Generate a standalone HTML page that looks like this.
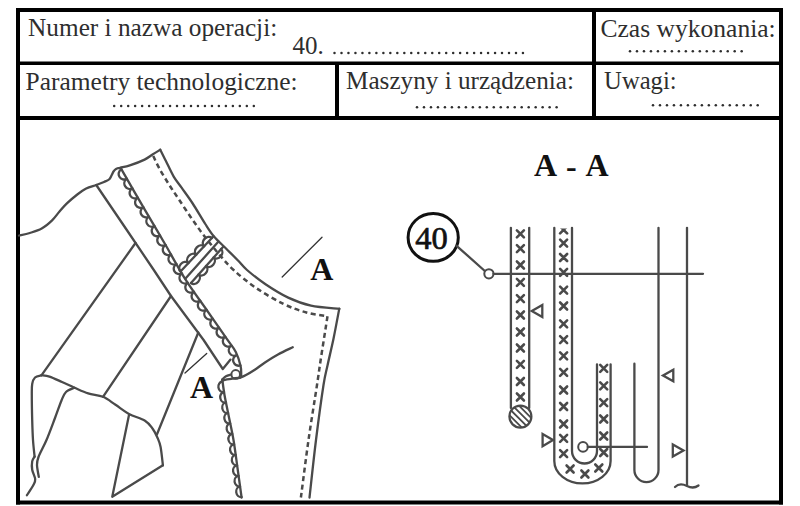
<!DOCTYPE html>
<html><head><meta charset="utf-8"><style>
html,body{margin:0;padding:0;background:#fff;}
svg{display:block;}
</style></head><body>
<svg width="800" height="506" viewBox="0 0 800 506">
<rect width="800" height="506" fill="#fff"/>
<rect x="16" y="8" width="767" height="4" fill="#000"/>
<rect x="16" y="500.5" width="767" height="4" fill="#000"/>
<rect x="16" y="8" width="4" height="496.5" fill="#000"/>
<rect x="779" y="8" width="4" height="496.5" fill="#000"/>
<rect x="16" y="61.5" width="767" height="3.5" fill="#000"/>
<rect x="16" y="116" width="767" height="4" fill="#000"/>
<rect x="592" y="8" width="4" height="112" fill="#000"/>
<rect x="335" y="62" width="4" height="58" fill="#000"/>
<text x="28.1" y="35.6" font-family="Liberation Serif" font-size="25" font-weight="normal" fill="#2e2e2e" textLength="249.1" lengthAdjust="spacingAndGlyphs">Numer i nazwa operacji:</text>
<text x="292.5" y="54" font-family="Liberation Serif" font-size="25" font-weight="normal" fill="#2e2e2e" >40.</text>
<text x="600.5" y="37" font-family="Liberation Serif" font-size="25" font-weight="normal" fill="#2e2e2e" textLength="175.2" lengthAdjust="spacingAndGlyphs">Czas wykonania:</text>
<text x="25.6" y="90" font-family="Liberation Serif" font-size="25" font-weight="normal" fill="#2e2e2e" textLength="272" lengthAdjust="spacingAndGlyphs">Parametry technologiczne:</text>
<text x="346" y="88.6" font-family="Liberation Serif" font-size="25" font-weight="normal" fill="#2e2e2e" textLength="228" lengthAdjust="spacingAndGlyphs">Maszyny i urządzenia:</text>
<text x="604.1" y="89" font-family="Liberation Serif" font-size="25" font-weight="normal" fill="#2e2e2e" textLength="72.5" lengthAdjust="spacingAndGlyphs">Uwagi:</text>
<circle cx="334.5" cy="53" r="1.25" fill="#2e2e2e"/>
<circle cx="341.48" cy="53" r="1.25" fill="#2e2e2e"/>
<circle cx="348.46" cy="53" r="1.25" fill="#2e2e2e"/>
<circle cx="355.44" cy="53" r="1.25" fill="#2e2e2e"/>
<circle cx="362.42" cy="53" r="1.25" fill="#2e2e2e"/>
<circle cx="369.4" cy="53" r="1.25" fill="#2e2e2e"/>
<circle cx="376.38" cy="53" r="1.25" fill="#2e2e2e"/>
<circle cx="383.36" cy="53" r="1.25" fill="#2e2e2e"/>
<circle cx="390.34" cy="53" r="1.25" fill="#2e2e2e"/>
<circle cx="397.32" cy="53" r="1.25" fill="#2e2e2e"/>
<circle cx="404.3" cy="53" r="1.25" fill="#2e2e2e"/>
<circle cx="411.28" cy="53" r="1.25" fill="#2e2e2e"/>
<circle cx="418.26" cy="53" r="1.25" fill="#2e2e2e"/>
<circle cx="425.24" cy="53" r="1.25" fill="#2e2e2e"/>
<circle cx="432.22" cy="53" r="1.25" fill="#2e2e2e"/>
<circle cx="439.2" cy="53" r="1.25" fill="#2e2e2e"/>
<circle cx="446.18" cy="53" r="1.25" fill="#2e2e2e"/>
<circle cx="453.16" cy="53" r="1.25" fill="#2e2e2e"/>
<circle cx="460.14" cy="53" r="1.25" fill="#2e2e2e"/>
<circle cx="467.12" cy="53" r="1.25" fill="#2e2e2e"/>
<circle cx="474.1" cy="53" r="1.25" fill="#2e2e2e"/>
<circle cx="481.08" cy="53" r="1.25" fill="#2e2e2e"/>
<circle cx="488.06" cy="53" r="1.25" fill="#2e2e2e"/>
<circle cx="495.04" cy="53" r="1.25" fill="#2e2e2e"/>
<circle cx="502.02" cy="53" r="1.25" fill="#2e2e2e"/>
<circle cx="509" cy="53" r="1.25" fill="#2e2e2e"/>
<circle cx="515.98" cy="53" r="1.25" fill="#2e2e2e"/>
<circle cx="522.96" cy="53" r="1.25" fill="#2e2e2e"/>
<circle cx="630" cy="51.2" r="1.25" fill="#2e2e2e"/>
<circle cx="636.98" cy="51.2" r="1.25" fill="#2e2e2e"/>
<circle cx="643.96" cy="51.2" r="1.25" fill="#2e2e2e"/>
<circle cx="650.94" cy="51.2" r="1.25" fill="#2e2e2e"/>
<circle cx="657.92" cy="51.2" r="1.25" fill="#2e2e2e"/>
<circle cx="664.9" cy="51.2" r="1.25" fill="#2e2e2e"/>
<circle cx="671.88" cy="51.2" r="1.25" fill="#2e2e2e"/>
<circle cx="678.86" cy="51.2" r="1.25" fill="#2e2e2e"/>
<circle cx="685.84" cy="51.2" r="1.25" fill="#2e2e2e"/>
<circle cx="692.82" cy="51.2" r="1.25" fill="#2e2e2e"/>
<circle cx="699.8" cy="51.2" r="1.25" fill="#2e2e2e"/>
<circle cx="706.78" cy="51.2" r="1.25" fill="#2e2e2e"/>
<circle cx="713.76" cy="51.2" r="1.25" fill="#2e2e2e"/>
<circle cx="720.74" cy="51.2" r="1.25" fill="#2e2e2e"/>
<circle cx="727.72" cy="51.2" r="1.25" fill="#2e2e2e"/>
<circle cx="734.7" cy="51.2" r="1.25" fill="#2e2e2e"/>
<circle cx="741.68" cy="51.2" r="1.25" fill="#2e2e2e"/>
<circle cx="114.2" cy="106" r="1.25" fill="#2e2e2e"/>
<circle cx="121.18" cy="106" r="1.25" fill="#2e2e2e"/>
<circle cx="128.16" cy="106" r="1.25" fill="#2e2e2e"/>
<circle cx="135.14" cy="106" r="1.25" fill="#2e2e2e"/>
<circle cx="142.12" cy="106" r="1.25" fill="#2e2e2e"/>
<circle cx="149.1" cy="106" r="1.25" fill="#2e2e2e"/>
<circle cx="156.08" cy="106" r="1.25" fill="#2e2e2e"/>
<circle cx="163.06" cy="106" r="1.25" fill="#2e2e2e"/>
<circle cx="170.04" cy="106" r="1.25" fill="#2e2e2e"/>
<circle cx="177.02" cy="106" r="1.25" fill="#2e2e2e"/>
<circle cx="184" cy="106" r="1.25" fill="#2e2e2e"/>
<circle cx="190.98" cy="106" r="1.25" fill="#2e2e2e"/>
<circle cx="197.96" cy="106" r="1.25" fill="#2e2e2e"/>
<circle cx="204.94" cy="106" r="1.25" fill="#2e2e2e"/>
<circle cx="211.92" cy="106" r="1.25" fill="#2e2e2e"/>
<circle cx="218.9" cy="106" r="1.25" fill="#2e2e2e"/>
<circle cx="225.88" cy="106" r="1.25" fill="#2e2e2e"/>
<circle cx="232.86" cy="106" r="1.25" fill="#2e2e2e"/>
<circle cx="239.84" cy="106" r="1.25" fill="#2e2e2e"/>
<circle cx="246.82" cy="106" r="1.25" fill="#2e2e2e"/>
<circle cx="253.8" cy="106" r="1.25" fill="#2e2e2e"/>
<circle cx="417" cy="107.3" r="1.25" fill="#2e2e2e"/>
<circle cx="423.98" cy="107.3" r="1.25" fill="#2e2e2e"/>
<circle cx="430.96" cy="107.3" r="1.25" fill="#2e2e2e"/>
<circle cx="437.94" cy="107.3" r="1.25" fill="#2e2e2e"/>
<circle cx="444.92" cy="107.3" r="1.25" fill="#2e2e2e"/>
<circle cx="451.9" cy="107.3" r="1.25" fill="#2e2e2e"/>
<circle cx="458.88" cy="107.3" r="1.25" fill="#2e2e2e"/>
<circle cx="465.86" cy="107.3" r="1.25" fill="#2e2e2e"/>
<circle cx="472.84" cy="107.3" r="1.25" fill="#2e2e2e"/>
<circle cx="479.82" cy="107.3" r="1.25" fill="#2e2e2e"/>
<circle cx="486.8" cy="107.3" r="1.25" fill="#2e2e2e"/>
<circle cx="493.78" cy="107.3" r="1.25" fill="#2e2e2e"/>
<circle cx="500.76" cy="107.3" r="1.25" fill="#2e2e2e"/>
<circle cx="507.74" cy="107.3" r="1.25" fill="#2e2e2e"/>
<circle cx="514.72" cy="107.3" r="1.25" fill="#2e2e2e"/>
<circle cx="521.7" cy="107.3" r="1.25" fill="#2e2e2e"/>
<circle cx="528.68" cy="107.3" r="1.25" fill="#2e2e2e"/>
<circle cx="535.66" cy="107.3" r="1.25" fill="#2e2e2e"/>
<circle cx="542.64" cy="107.3" r="1.25" fill="#2e2e2e"/>
<circle cx="549.62" cy="107.3" r="1.25" fill="#2e2e2e"/>
<circle cx="556.6" cy="107.3" r="1.25" fill="#2e2e2e"/>
<circle cx="653" cy="105.3" r="1.25" fill="#2e2e2e"/>
<circle cx="659.98" cy="105.3" r="1.25" fill="#2e2e2e"/>
<circle cx="666.96" cy="105.3" r="1.25" fill="#2e2e2e"/>
<circle cx="673.94" cy="105.3" r="1.25" fill="#2e2e2e"/>
<circle cx="680.92" cy="105.3" r="1.25" fill="#2e2e2e"/>
<circle cx="687.9" cy="105.3" r="1.25" fill="#2e2e2e"/>
<circle cx="694.88" cy="105.3" r="1.25" fill="#2e2e2e"/>
<circle cx="701.86" cy="105.3" r="1.25" fill="#2e2e2e"/>
<circle cx="708.84" cy="105.3" r="1.25" fill="#2e2e2e"/>
<circle cx="715.82" cy="105.3" r="1.25" fill="#2e2e2e"/>
<circle cx="722.8" cy="105.3" r="1.25" fill="#2e2e2e"/>
<circle cx="729.78" cy="105.3" r="1.25" fill="#2e2e2e"/>
<circle cx="736.76" cy="105.3" r="1.25" fill="#2e2e2e"/>
<circle cx="743.74" cy="105.3" r="1.25" fill="#2e2e2e"/>
<circle cx="750.72" cy="105.3" r="1.25" fill="#2e2e2e"/>
<circle cx="757.7" cy="105.3" r="1.25" fill="#2e2e2e"/>
<path d="M19,235.5 C20.8,235.08 26.02,234.15 29.8,233 C33.58,231.85 37.98,230.7 41.7,228.6 C45.42,226.5 49.13,223.25 52.1,220.4 C55.07,217.55 57.03,214.33 59.5,211.5 C61.97,208.67 63.93,206.23 66.9,203.4 C69.87,200.57 74.08,196.98 77.3,194.5 C80.52,192.02 83.04,190.08 86.2,188.5 C89.36,186.92 93.28,186.08 96.25,185 C99.22,183.92 101.88,182.92 104,182 C106.12,181.08 107.75,180.58 109,179.5 C110.25,178.42 110.75,176.83 111.5,175.5 C112.25,174.17 112.75,172.58 113.5,171.5 C114.25,170.42 114.92,169.62 116,169 C117.08,168.38 117.7,168.4 120,167.8 C122.3,167.2 125.7,166.77 129.8,165.4 C133.9,164.03 140.82,161.42 144.6,159.6 C148.38,157.78 149.89,156.14 152.5,154.5 C155.11,152.86 158.96,150.54 160.25,149.75" fill="none" stroke="#4a4a4a" stroke-width="2.3" stroke-linejoin="round" stroke-linecap="round" />
<path d="M160.25,149.75 C161.18,151.59 163.56,156.33 165.8,160.8 C168.04,165.28 171.07,172.12 173.7,176.6 C176.33,181.08 178.43,183.22 181.6,187.7 C184.77,192.18 188.75,197.45 192.7,203.5 C196.65,209.55 201.75,218.5 205.3,224 C208.85,229.5 210.55,232.42 214,236.5 C217.45,240.58 222,244.5 226,248.5 C230,252.5 234.5,256.92 238,260.5 C241.5,264.08 242.42,266.05 247,270 C251.58,273.95 258.63,279.6 265.5,284.2 C272.37,288.8 280.62,294.03 288.2,297.6 C295.78,301.17 302.48,303.73 311,305.6 C319.52,307.47 334.58,308.27 339.3,308.8" fill="none" stroke="#4a4a4a" stroke-width="2.3" stroke-linejoin="round" stroke-linecap="round" />
<path d="M339.3,308.6 C338.35,313.53 335.57,328.72 333.6,338.2 C331.63,347.68 329.18,357.7 327.5,365.5 C325.82,373.3 325.42,372.58 323.5,385 C321.58,397.42 318.33,421.25 316,440 C313.67,458.75 310.58,487.92 309.5,497.5" fill="none" stroke="#4a4a4a" stroke-width="2.3" stroke-linejoin="round" stroke-linecap="round" />
<path d="M153.2,156 C154.25,158.12 156.87,163.95 159.5,168.7 C162.13,173.45 165.83,179.48 169,184.5 C172.17,189.52 174.82,193.27 178.5,198.8 C182.18,204.33 186.93,211.67 191.1,217.7 C195.27,223.73 199.02,229.12 203.5,235 C207.98,240.88 212.98,247.17 218,253 C223.02,258.83 227.2,264.13 233.6,270 C240,275.87 248.07,282.53 256.4,288.2 C264.73,293.87 275.27,299.95 283.6,304 C291.93,308.05 299.08,310.45 306.4,312.5 C313.72,314.55 323.98,315.67 327.5,316.3" fill="none" stroke="#4a4a4a" stroke-width="2.5" stroke-linejoin="round" stroke-linecap="butt" stroke-dasharray="5 3.5"/>
<path d="M327.5,316.3 C327.17,318.42 326.67,321.55 325.5,329 C324.33,336.45 321.92,351.67 320.5,361 C319.08,370.33 319,371.83 317,385 C315,398.17 311.18,421.25 308.5,440 C305.82,458.75 302.17,487.92 300.9,497.5" fill="none" stroke="#4a4a4a" stroke-width="2.5" stroke-linejoin="round" stroke-linecap="butt" stroke-dasharray="5 3.5"/>
<path d="M96.25,185 L126.8,230 L153.8,270 L171,296 L203.6,340 L222.8,369 L230.5,359.6" fill="none" stroke="#4a4a4a" stroke-width="2.3" stroke-linejoin="round" stroke-linecap="round" />
<path d="M120.9,168.4 C124.85,175.23 137.25,196.8 144.6,209.4 C151.95,222 158.17,232.28 165,244 C171.83,255.72 178.77,268.87 185.6,279.7 C192.43,290.53 199.1,299.08 206,309 C212.9,318.92 222.03,332.05 227,339.2 C231.97,346.35 233.53,347.42 235.8,351.9 C238.07,356.38 239.7,362.15 240.6,366.1 C241.5,370.05 241.1,374.02 241.2,375.6" fill="none" stroke="#4a4a4a" stroke-width="2.3" stroke-linejoin="round" stroke-linecap="round" />
<path d="M121.4,169.27 A5.47,5.47 59.97 0 0 126.88,178.75 A5.48,5.48 59.97 0 0 132.36,188.23 A5.47,5.47 59.97 0 0 137.84,197.71 A5.47,5.47 59.97 0 0 143.32,207.19 A5.47,5.47 59.59 0 0 148.86,216.63 A5.48,5.48 59.48 0 0 154.42,226.06 A5.47,5.47 59.48 0 0 159.99,235.5 A5.47,5.47 59.53 0 0 165.54,244.93 A5.47,5.47 60.01 0 0 171.01,254.42 A5.48,5.48 60.01 0 0 176.48,263.9 A5.47,5.47 60.01 0 0 181.96,273.39 A5.47,5.47 58.39 0 0 187.69,282.7 A5.47,5.47 55.15 0 0 193.95,291.69 A5.47,5.47 55.15 0 0 200.2,300.68 A5.47,5.47 55.16 0 0 206.46,309.66 A5.48,5.48 55.19 0 0 212.71,318.65 A5.47,5.47 55.19 0 0 218.96,327.64 A5.47,5.47 55.19 0 0 225.22,336.63 A5.47,5.47 55.25 0 0 231.46,345.63 A5.43,5.43 60.13 0 0 236.86,355.05 A5.47,5.47 71.32 0 0 240.37,365.42" fill="none" stroke="#4a4a4a" stroke-width="2.3" stroke-linejoin="round" stroke-linecap="round" />
<path d="M180.5,271.5 L213.5,236.3" fill="none" stroke="#4a4a4a" stroke-width="2.3" stroke-linejoin="round" stroke-linecap="round" />
<path d="M185.5,278.5 L218.5,241.5" fill="none" stroke="#4a4a4a" stroke-width="2.3" stroke-linejoin="round" stroke-linecap="round" />
<path d="M191,283 L223,247" fill="none" stroke="#4a4a4a" stroke-width="2.3" stroke-linejoin="round" stroke-linecap="round" />
<path d="M180.5,271.5 A5.75,4.89 -46.76 0 1 188.38,263.12 A5.75,4.89 -46.76 0 1 196.25,254.75 A5.75,4.89 -46.76 0 1 204.12,246.38 A5.75,4.89 -46.76 0 1 212,238" fill="none" stroke="#4a4a4a" stroke-width="2.3" stroke-linejoin="round" stroke-linecap="round" />
<path d="M191,283 A5.67,4.82 -48.58 0 0 198.5,274.5 A5.67,4.82 -48.58 0 0 206,266 A5.67,4.82 -48.58 0 0 213.5,257.5 A5.67,4.82 -48.58 0 0 221,249" fill="none" stroke="#4a4a4a" stroke-width="2.3" stroke-linejoin="round" stroke-linecap="round" />
<circle cx="235.7" cy="374.4" r="4.3" fill="#fff" stroke="#4a4a4a" stroke-width="2"/>
<path d="M222.3,379.5 C222.67,382.08 223.47,389.08 224.5,395 C225.53,400.92 227,407.5 228.5,415 C230,422.5 232,431.17 233.5,440 C235,448.83 236.15,458.42 237.5,468 C238.85,477.58 240.92,492.58 241.6,497.5" fill="none" stroke="#4a4a4a" stroke-width="2.3" stroke-linejoin="round" stroke-linecap="round" />
<path d="M222.3,381.5 A5.32,4.79 80.74 0 0 224.01,392.01 A5.32,4.79 79.27 0 0 225.99,402.47 A5.32,4.79 78.69 0 0 228.08,412.92 A5.32,4.79 78.69 0 0 230.17,423.36 A5.33,4.79 78.69 0 0 232.26,433.8 A5.32,4.79 79.98 0 0 234.11,444.29 A5.32,4.79 81.87 0 0 235.62,454.83 A5.33,4.79 81.87 0 0 237.12,465.37 A5.32,4.79 82.03 0 0 238.6,475.92 A5.32,4.79 82.09 0 0 240.07,486.47 A5.33,4.79 82.09 0 0 241.53,497.02" fill="none" stroke="#4a4a4a" stroke-width="2.3" stroke-linejoin="round" stroke-linecap="round" />
<path d="M222.3,379.5 C222.92,378.95 224.55,377.03 226,376.2 C227.45,375.37 230.17,374.78 231,374.5" fill="none" stroke="#4a4a4a" stroke-width="2.3" stroke-linejoin="round" stroke-linecap="round" />
<path d="M222.3,380.3 C224.02,380.03 229.7,379.1 232.6,378.7 C235.5,378.3 238.52,378.03 239.7,377.9" fill="none" stroke="#4a4a4a" stroke-width="2.3" stroke-linejoin="round" stroke-linecap="round" />
<path d="M239.7,377.9 C240.75,377.42 243.48,376.37 246,375 C248.52,373.63 251.63,371.78 254.8,369.7 C257.97,367.62 261.13,365.03 265,362.5 C268.87,359.97 273.38,357.03 278,354.5 C282.62,351.97 290.25,348.5 292.7,347.3" fill="none" stroke="#4a4a4a" stroke-width="2.3" stroke-linejoin="round" stroke-linecap="round" />
<path d="M135.5,243 L41.6,375.2" fill="none" stroke="#4a4a4a" stroke-width="2.3" stroke-linejoin="round" stroke-linecap="round" />
<path d="M171,296 L103,396.8" fill="none" stroke="#4a4a4a" stroke-width="2.3" stroke-linejoin="round" stroke-linecap="round" />
<path d="M198.3,332.5 L157,434.3" fill="none" stroke="#4a4a4a" stroke-width="2.3" stroke-linejoin="round" stroke-linecap="round" />
<path d="M41.6,375.2 C42.92,375.43 46.1,375.47 49.5,376.6 C52.9,377.73 57.83,380.15 62,382 C66.17,383.85 70.13,385.8 74.5,387.7 C78.87,389.6 83.45,391.88 88.2,393.4 C92.95,394.92 98.45,394.9 103,396.8 C107.55,398.7 111.17,401.95 115.5,404.8 C119.83,407.65 124.08,411.25 129,413.9 C133.92,416.55 141.08,418.27 145,420.7 C148.92,423.13 150.42,425.67 152.5,428.5 C154.58,431.33 156.15,434.62 157.5,437.7 C158.85,440.78 159.7,442.4 160.6,447 C161.5,451.6 162.52,462.25 162.9,465.3" fill="none" stroke="#4a4a4a" stroke-width="2.3" stroke-linejoin="round" stroke-linecap="round" />
<path d="M162.9,465.3 L112.25,496.75 L129,415" fill="none" stroke="#4a4a4a" stroke-width="2.3" stroke-linejoin="round" stroke-linecap="round" />
<path d="M41.6,375.2 C40.5,375.58 36.57,376.03 35,377.5 C33.43,378.97 32.73,381.08 32.2,384 C31.67,386.92 31.8,389 31.8,395 C31.8,401 32,412.5 32.2,420 C32.4,427.5 32.6,433.9 33,440 C33.4,446.1 34.33,453.83 34.6,456.6" fill="none" stroke="#4a4a4a" stroke-width="2.3" stroke-linejoin="round" stroke-linecap="round" />
<path d="M34.6,456.6 C34.2,457.4 32.6,459.22 32.2,461.4 C31.8,463.58 31.7,466.75 32.2,469.7 C32.7,472.65 35,476.55 35.2,479.1 C35.4,481.65 34.78,482.32 33.4,485 C32.02,487.68 27.98,493.5 26.9,495.2" fill="none" stroke="#4a4a4a" stroke-width="2.3" stroke-linejoin="round" stroke-linecap="round" />
<path d="M74.5,387.7 C73.08,388.42 68.17,389.87 66,392 C63.83,394.13 63.33,396.17 61.5,400.5 C59.67,404.83 57.5,411.42 55,418 C52.5,424.58 49.25,433.5 46.5,440 C43.75,446.5 40.08,452.83 38.5,457 C36.92,461.17 36.95,461.7 37,465 C37.05,468.3 38.5,474.83 38.8,476.8" fill="none" stroke="#4a4a4a" stroke-width="2.3" stroke-linejoin="round" stroke-linecap="round" />
<path d="M282.2,277 L322,237.2" fill="none" stroke="#333" stroke-width="1.3" stroke-linejoin="round" stroke-linecap="round" />
<path d="M185,373 L206.7,353.4" fill="none" stroke="#333" stroke-width="1.3" stroke-linejoin="round" stroke-linecap="round" />
<text x="310.2" y="279.6" font-family="Liberation Serif" font-size="32" font-weight="bold" fill="#111" >A</text>
<text x="190" y="398.3" font-family="Liberation Serif" font-size="32" font-weight="bold" fill="#111" >A</text>
<text x="534" y="176.3" font-family="Liberation Serif" font-size="32" font-weight="bold" fill="#111" >A</text>
<text x="566" y="176.6" font-family="Liberation Serif" font-size="32" font-weight="bold" fill="#111" >-</text>
<text x="585.4" y="176.3" font-family="Liberation Serif" font-size="32" font-weight="bold" fill="#111" >A</text>
<ellipse cx="433.2" cy="237.4" rx="25.1" ry="23.9" fill="none" stroke="#111" stroke-width="3"/>
<text x="415.3" y="249.2" font-family="Liberation Serif" font-size="32.5" font-weight="normal" fill="#111" stroke="#111" stroke-width="0.7">40</text>
<path d="M456.6,245.8 L485.4,271.5" fill="none" stroke="#4a4a4a" stroke-width="2.3" stroke-linejoin="round" stroke-linecap="round" />
<circle cx="488.9" cy="273.8" r="4.6" fill="#fff" stroke="#4a4a4a" stroke-width="2"/>
<path d="M493.5,273.8 L703,273.8" fill="none" stroke="#4a4a4a" stroke-width="2.3" stroke-linejoin="round" stroke-linecap="round" />
<path d="M510.9,227.8 L510.9,408" fill="none" stroke="#4a4a4a" stroke-width="2.3" stroke-linejoin="round" stroke-linecap="round" />
<path d="M529.2,227.8 L529.2,408" fill="none" stroke="#4a4a4a" stroke-width="2.3" stroke-linejoin="round" stroke-linecap="round" />
<path d="M516.9,230.3 L523.9,237.3 M523.9,230.3 L516.9,237.3" fill="none" stroke="#4a4a4a" stroke-width="2.6" stroke-linejoin="round" stroke-linecap="round" />
<path d="M516.9,245.2 L523.9,252.2 M523.9,245.2 L516.9,252.2" fill="none" stroke="#4a4a4a" stroke-width="2.6" stroke-linejoin="round" stroke-linecap="round" />
<path d="M516.9,261.5 L523.9,268.5 M523.9,261.5 L516.9,268.5" fill="none" stroke="#4a4a4a" stroke-width="2.6" stroke-linejoin="round" stroke-linecap="round" />
<path d="M516.9,278.8 L523.9,285.8 M523.9,278.8 L516.9,285.8" fill="none" stroke="#4a4a4a" stroke-width="2.6" stroke-linejoin="round" stroke-linecap="round" />
<path d="M516.9,295.2 L523.9,302.2 M523.9,295.2 L516.9,302.2" fill="none" stroke="#4a4a4a" stroke-width="2.6" stroke-linejoin="round" stroke-linecap="round" />
<path d="M516.9,311.5 L523.9,318.5 M523.9,311.5 L516.9,318.5" fill="none" stroke="#4a4a4a" stroke-width="2.6" stroke-linejoin="round" stroke-linecap="round" />
<path d="M516.9,328.5 L523.9,335.5 M523.9,328.5 L516.9,335.5" fill="none" stroke="#4a4a4a" stroke-width="2.6" stroke-linejoin="round" stroke-linecap="round" />
<path d="M516.9,344.5 L523.9,351.5 M523.9,344.5 L516.9,351.5" fill="none" stroke="#4a4a4a" stroke-width="2.6" stroke-linejoin="round" stroke-linecap="round" />
<path d="M516.9,360.8 L523.9,367.8 M523.9,360.8 L516.9,367.8" fill="none" stroke="#4a4a4a" stroke-width="2.6" stroke-linejoin="round" stroke-linecap="round" />
<path d="M516.9,378 L523.9,385 M523.9,378 L516.9,385" fill="none" stroke="#4a4a4a" stroke-width="2.6" stroke-linejoin="round" stroke-linecap="round" />
<path d="M516.9,393.5 L523.9,400.5 M523.9,393.5 L516.9,400.5" fill="none" stroke="#4a4a4a" stroke-width="2.6" stroke-linejoin="round" stroke-linecap="round" />
<clipPath id="hc"><circle cx="520.4" cy="416.6" r="11"/></clipPath>
<circle cx="520.4" cy="416.6" r="11" fill="#fff" stroke="#4a4a4a" stroke-width="2.2"/>
<path d="M501.63,407.37 L529.63,435.37 M504.81,404.19 L532.81,432.19 M507.99,401.01 L535.99,429.01 M511.17,397.83 L539.17,425.83 " fill="none" stroke="#4a4a4a" stroke-width="1.8" stroke-linejoin="round" stroke-linecap="round" clip-path="url(#hc)"/>
<path d="M554.3,227.8 L554.3,461 A28.15,22.4 0 0 0 610.6,461 L610.6,364.3" fill="none" stroke="#4a4a4a" stroke-width="2.3" stroke-linejoin="round" stroke-linecap="round" />
<path d="M572,227.8 L572,451 A12.5,12.5 0 0 0 597,451 L597,364.3" fill="none" stroke="#4a4a4a" stroke-width="2.3" stroke-linejoin="round" stroke-linecap="round" />
<clipPath id="topclip"><rect x="540" y="228.6" width="100" height="300"/></clipPath>
<g clip-path="url(#topclip)">
<path d="M560.1,226.4 L567.1,233.4 M567.1,226.4 L560.1,233.4" fill="none" stroke="#4a4a4a" stroke-width="2.6" stroke-linejoin="round" stroke-linecap="round" />
<path d="M560.1,239.7 L567.1,246.7 M567.1,239.7 L560.1,246.7" fill="none" stroke="#4a4a4a" stroke-width="2.6" stroke-linejoin="round" stroke-linecap="round" />
<path d="M560.1,254 L567.1,261 M567.1,254 L560.1,261" fill="none" stroke="#4a4a4a" stroke-width="2.6" stroke-linejoin="round" stroke-linecap="round" />
<path d="M560.1,268.9 L567.1,275.9 M567.1,268.9 L560.1,275.9" fill="none" stroke="#4a4a4a" stroke-width="2.6" stroke-linejoin="round" stroke-linecap="round" />
<path d="M560.1,286.7 L567.1,293.7 M567.1,286.7 L560.1,293.7" fill="none" stroke="#4a4a4a" stroke-width="2.6" stroke-linejoin="round" stroke-linecap="round" />
<path d="M560.1,302.5 L567.1,309.5 M567.1,302.5 L560.1,309.5" fill="none" stroke="#4a4a4a" stroke-width="2.6" stroke-linejoin="round" stroke-linecap="round" />
<path d="M560.1,320.3 L567.1,327.3 M567.1,320.3 L560.1,327.3" fill="none" stroke="#4a4a4a" stroke-width="2.6" stroke-linejoin="round" stroke-linecap="round" />
<path d="M560.1,336.1 L567.1,343.1 M567.1,336.1 L560.1,343.1" fill="none" stroke="#4a4a4a" stroke-width="2.6" stroke-linejoin="round" stroke-linecap="round" />
<path d="M560.1,352.3 L567.1,359.3 M567.1,352.3 L560.1,359.3" fill="none" stroke="#4a4a4a" stroke-width="2.6" stroke-linejoin="round" stroke-linecap="round" />
<path d="M560.1,368.8 L567.1,375.8 M567.1,368.8 L560.1,375.8" fill="none" stroke="#4a4a4a" stroke-width="2.6" stroke-linejoin="round" stroke-linecap="round" />
<path d="M560.1,386.5 L567.1,393.5 M567.1,386.5 L560.1,393.5" fill="none" stroke="#4a4a4a" stroke-width="2.6" stroke-linejoin="round" stroke-linecap="round" />
<path d="M560.1,403 L567.1,410 M567.1,403 L560.1,410" fill="none" stroke="#4a4a4a" stroke-width="2.6" stroke-linejoin="round" stroke-linecap="round" />
<path d="M560.1,420.5 L567.1,427.5 M567.1,420.5 L560.1,427.5" fill="none" stroke="#4a4a4a" stroke-width="2.6" stroke-linejoin="round" stroke-linecap="round" />
<path d="M560.1,434.9 L567.1,441.9 M567.1,434.9 L560.1,441.9" fill="none" stroke="#4a4a4a" stroke-width="2.6" stroke-linejoin="round" stroke-linecap="round" />
<path d="M560.1,450.1 L567.1,457.1 M567.1,450.1 L560.1,457.1" fill="none" stroke="#4a4a4a" stroke-width="2.6" stroke-linejoin="round" stroke-linecap="round" />
</g>
<path d="M566.6,465.5 L573.6,472.5 M573.6,465.5 L566.6,472.5" fill="none" stroke="#4a4a4a" stroke-width="2.6" stroke-linejoin="round" stroke-linecap="round" />
<path d="M581.4,470.5 L588.4,477.5 M588.4,470.5 L581.4,477.5" fill="none" stroke="#4a4a4a" stroke-width="2.6" stroke-linejoin="round" stroke-linecap="round" />
<path d="M595.3,464.5 L602.3,471.5 M602.3,464.5 L595.3,471.5" fill="none" stroke="#4a4a4a" stroke-width="2.6" stroke-linejoin="round" stroke-linecap="round" />
<path d="M600.2,364.9 L607.2,371.9 M607.2,364.9 L600.2,371.9" fill="none" stroke="#4a4a4a" stroke-width="2.6" stroke-linejoin="round" stroke-linecap="round" />
<path d="M600.2,382.3 L607.2,389.3 M607.2,382.3 L600.2,389.3" fill="none" stroke="#4a4a4a" stroke-width="2.6" stroke-linejoin="round" stroke-linecap="round" />
<path d="M600.2,399.1 L607.2,406.1 M607.2,399.1 L600.2,406.1" fill="none" stroke="#4a4a4a" stroke-width="2.6" stroke-linejoin="round" stroke-linecap="round" />
<path d="M600.2,415.5 L607.2,422.5 M607.2,415.5 L600.2,422.5" fill="none" stroke="#4a4a4a" stroke-width="2.6" stroke-linejoin="round" stroke-linecap="round" />
<path d="M600.2,432.5 L607.2,439.5 M607.2,432.5 L600.2,439.5" fill="none" stroke="#4a4a4a" stroke-width="2.6" stroke-linejoin="round" stroke-linecap="round" />
<path d="M600.2,449 L607.2,456 M607.2,449 L600.2,456" fill="none" stroke="#4a4a4a" stroke-width="2.6" stroke-linejoin="round" stroke-linecap="round" />
<circle cx="583" cy="446.9" r="4.8" fill="#fff" stroke="#4a4a4a" stroke-width="2"/>
<path d="M587.8,446.9 L647,446.9" fill="none" stroke="#4a4a4a" stroke-width="2.3" stroke-linejoin="round" stroke-linecap="round" />
<path d="M634.4,363.7 L634.4,470 A12,12 0 0 0 658.5,470 L658.5,227.8" fill="none" stroke="#4a4a4a" stroke-width="2.3" stroke-linejoin="round" stroke-linecap="round" />
<path d="M687,227.8 L687,485" fill="none" stroke="#4a4a4a" stroke-width="2.3" stroke-linejoin="round" stroke-linecap="round" />
<path d="M675,487 C679,483 683,484 687,486 C691,488 695,488 698.5,485.5" fill="none" stroke="#4a4a4a" stroke-width="2.3" stroke-linejoin="round" stroke-linecap="round" />
<path d="M531.8,311 L542.3,305 L542.3,317 Z" fill="none" stroke="#4a4a4a" stroke-width="2.3" stroke-linejoin="miter"/>
<path d="M553,440 L542.6,434 L542.6,446.2 Z" fill="none" stroke="#4a4a4a" stroke-width="2.3" stroke-linejoin="miter"/>
<path d="M663,375.5 L673.3,369.8 L673.3,381.2 Z" fill="none" stroke="#4a4a4a" stroke-width="2.3" stroke-linejoin="miter"/>
<path d="M683.5,450.5 L672.8,444.4 L672.8,456.6 Z" fill="none" stroke="#4a4a4a" stroke-width="2.3" stroke-linejoin="miter"/>
</svg>
</body></html>
